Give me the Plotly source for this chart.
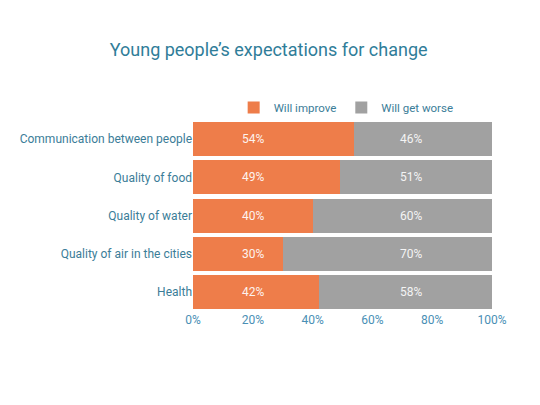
import plotly.graph_objects as go

categories = [
    "Communication between people",
    "Quality of food",
    "Quality of water",
    "Quality of air in the cities",
    "Health",
]
improve = [54, 49, 40, 30, 42]
worse = [46, 51, 60, 70, 58]
x_ticks = [0, 20, 40, 60, 80, 100]

orange = "#ee7d4a"
grey = "#a1a1a1"
teal = "#3b7d98"

fig = go.Figure()
fig.add_trace(go.Bar(y=categories, x=improve, name="Will improve", orientation="h",
                     marker=dict(color=orange, line=dict(width=0)), hoverinfo="x+y"))
fig.add_trace(go.Bar(y=categories, x=worse, name="Will get worse", orientation="h",
                     marker=dict(color=grey, line=dict(width=0)), hoverinfo="x+y"))

# value labels sit in two fixed columns, not centred in each segment
for cat, a, b in zip(categories, improve, worse):
    fig.add_annotation(x=20, y=cat, text=f"{a}%", showarrow=False,
                       font=dict(color="#fdf3ee", size=12))
    fig.add_annotation(x=73, y=cat, text=f"{b}%", showarrow=False,
                       font=dict(color="#f4f4f4", size=12))

# page body has an 8px margin, so the figure is a bit smaller than the window
fig.update_layout(
    width=532, height=397,
    barmode="stack", bargap=0.11,
    font=dict(family="Roboto, sans-serif", color=teal, size=12),
    title=dict(text="Young people’s expectations for change", x=0.49, xanchor="center",
               y=0.894, yanchor="middle", font=dict(size=18, color="#2f7d99")),
    margin=dict(l=183, r=48, t=112, b=94),
    plot_bgcolor="white", paper_bgcolor="white",
    legend=dict(orientation="h", x=0.136, xanchor="left", y=1.065, yanchor="middle",
                itemwidth=30, font=dict(size=11.5, color=teal), traceorder="normal"),
    xaxis=dict(range=[0, 100], tickvals=x_ticks, ticktext=[f"{t}%" for t in x_ticks],
               showgrid=False, zeroline=False, showline=False,
               tickfont=dict(color="#4a8fb5", size=12)),
    yaxis=dict(autorange="reversed", showgrid=False, showline=False, ticks="",
               tickfont=dict(color=teal, size=12)),
)

fig.write_html("out.html")
